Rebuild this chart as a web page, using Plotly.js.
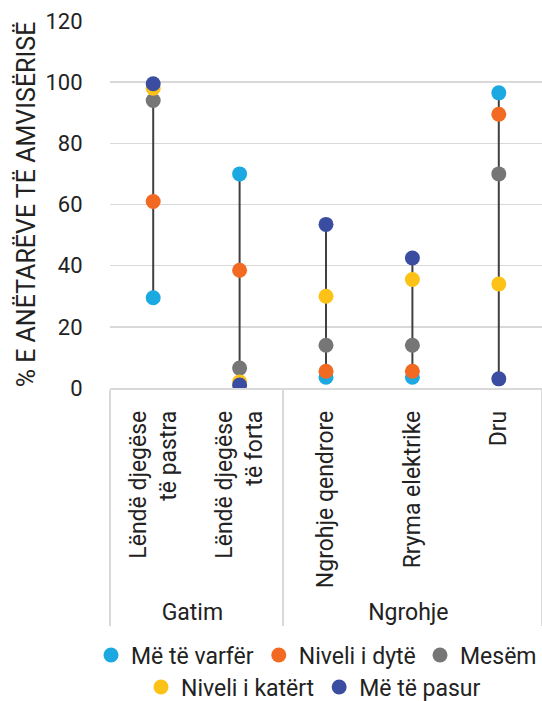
<!DOCTYPE html>
<html>
<head>
<meta charset="utf-8">
<script src="https://cdn.plot.ly/plotly-3.0.1.min.js"></script>
<style>html,body{margin:0;padding:0;background:#fff;}#chart{width:542px;height:701px;}</style>
</head>
<body>
<div id="chart"></div>
<script>
const groups = ['Gatim', 'Gatim', 'Ngrohje', 'Ngrohje', 'Ngrohje'];
const categories = ['Lëndë djegëse<br>të pastra', 'Lëndë djegëse<br>të forta', 'Ngrohje qendrore', 'Rryma elektrike', 'Dru'];
const seriesNames = ['Më të varfër', 'Niveli i dytë', 'Mesëm', 'Niveli i katërt', 'Më të pasur'];
const varfer = [29.5, 70, 3.5, 3.5, 96.5];
const niveliDyte = [61, 38.5, 5.5, 5.5, 89.5];
const mesem = [94, 6.5, 14, 14, 70];
const niveliKatert = [98, 2, 30, 35.5, 34];
const pasur = [99.5, 1, 53.5, 42.5, 3];
const yTicks = [0, 20, 40, 60, 80, 100, 120];
const colors = ['#1CA9E1', '#F26A21', '#767676', '#FDC218', '#3A4DA1'];

const FONT = 'Roboto, "Liberation Sans", Arial, sans-serif';
const series = [varfer, niveliDyte, mesem, niveliKatert, pasur];
const legendIds = ['legend', 'legend', 'legend3', 'legend2', 'legend2'];
const traces = [];
categories.forEach((c, i) => {
  const vals = series.map(s => s[i]);
  traces.push({
    type: 'scatter', mode: 'lines',
    x: [[groups[i], groups[i]], [c, c]],
    y: [Math.min(...vals), Math.max(...vals)],
    line: {color: '#404040', width: 2},
    showlegend: false, hoverinfo: 'skip'
  });
});
series.forEach((s, k) => {
  traces.push({
    type: 'scatter', mode: 'markers', name: seriesNames[k],
    x: [groups, categories], y: s,
    marker: {color: colors[k], size: 15},
    legend: legendIds[k]
  });
});

const legendBase = {
  orientation: 'h', xref: 'container', xanchor: 'left', yref: 'container', yanchor: 'middle',
  font: {family: FONT, size: 23, color: '#222'}, itemwidth: 30, tracegroupgap: 0,
  bgcolor: 'rgba(0,0,0,0)'
};
const layout = {
  width: 542, height: 701,
  margin: {l: 110, r: 0, t: 21, b: 313},
  paper_bgcolor: '#fff', plot_bgcolor: '#fff',
  font: {family: FONT, size: 23, color: '#222'},
  xaxis: {
    type: 'multicategory', tickangle: -90, automargin: false, range: [-0.5, 4.5],
    showgrid: false, showline: true, linecolor: '#d9d9d9', linewidth: 1.5,
    showdividers: true, dividercolor: '#d9d9d9', dividerwidth: 1.5,
    ticks: '', ticklabelstandoff: 12, tickfont: {family: FONT, size: 23, color: '#222'}
  },
  yaxis: {
    range: [0, 120], tickvals: yTicks, showgrid: true, gridcolor: '#d9d9d9', gridwidth: 1.5,
    automargin: false,
    zeroline: false, showline: false, ticks: 'outside', ticklen: 22, tickcolor: 'rgba(0,0,0,0)',
    tickfont: {family: FONT, size: 22, color: '#222'},
    title: {text: '% E ANËTARËVE TË AMVISËRISË', font: {family: FONT, size: 25, color: '#222'}, standoff: 2}
  },
  legend: Object.assign({}, legendBase, {x: 91 / 542, y: 1 - 655 / 701}),
  legend3: Object.assign({}, legendBase, {x: 420 / 542, y: 1 - 655 / 701}),
  legend2: Object.assign({}, legendBase, {x: 141 / 542, y: 1 - 687 / 701}),
  showlegend: true
};
Plotly.newPlot('chart', traces, layout, {displayModeBar: false, staticPlot: true});
</script>
</body>
</html>
